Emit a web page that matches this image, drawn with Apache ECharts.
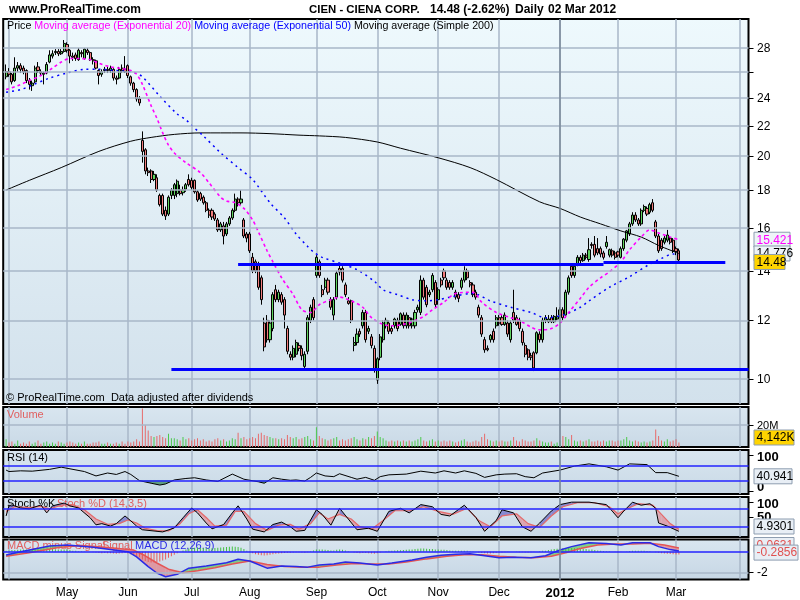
<!DOCTYPE html>
<html><head><meta charset="utf-8">
<script src="https://cdn.jsdelivr.net/npm/echarts@6/dist/echarts.min.js"></script>
<style>html,body{margin:0;padding:0;background:#fff}#c{width:800px;height:600px}</style>
</head><body><div id="c"></div>
<script>
// ---------------- DATA ----------------
const open = [
25.6,26.0,25.8,25.3,26.3,26.5,26.3,26.1,25.3,24.9,25.2,
26.4,26.0,25.8,25.9,26.8,27.3,27.6,27.7,27.5,27.7,28.3,
27.8,27.3,27.4,27.0,27.6,27.1,27.8,27.6,27.0,26.9,26.1,
25.8,26.1,26.2,26.1,26.2,25.5,25.5,26.3,26.2,26.5,25.6,
25.1,24.6,23.9,21.0,20.4,19.1,19.1,18.6,18.7,17.7,17.7,
16.9,16.7,17.7,17.7,17.8,18.0,17.85,18.05,18.6,18.55,18.55,
17.9,17.8,17.6,17.3,16.9,16.9,16.7,16.4,15.9,16.1,15.7,
16.2,16.5,16.9,17.5,17.3,16.4,15.7,15.7,14.6,14.4,14.3,
13.7,11.9,12.0,11.3,11.7,13.2,12.8,13.0,12.8,11.7,10.8,
10.7,10.8,11.1,11.0,10.4,10.9,12.0,12.8,13.8,14.4,13.2,
13.3,13.6,12.8,12.2,12.9,14.1,14.1,13.4,12.75,12.75,11.1,
11.2,11.6,11.8,12.3,11.6,11.4,11.0,9.97,10.7,11.3,11.8,
11.9,11.7,11.8,12.0,11.85,12.2,11.8,12.1,11.8,11.8,12.4,
12.3,13.6,13.3,13.0,13.2,13.5,12.8,13.6,14.0,13.6,13.5,
13.3,13.1,13.0,13.3,13.6,14.0,13.5,13.4,13.1,12.5,12.1,
11.3,11.0,11.3,11.6,11.8,12.1,12.1,11.85,11.9,11.3,12.3,
12.1,12.0,11.6,11.1,10.95,10.75,10.85,10.85,11.5,11.3,12.0,
11.95,12.1,11.95,12.05,12.2,12.4,12.2,13.1,14.2,13.8,14.3,
14.6,14.45,14.7,14.5,15.2,15.2,15.0,15.0,14.8,15.1,14.7,
14.9,14.8,14.85,14.6,15.0,15.4,15.7,16.2,16.65,16.4,16.2,
16.9,17.0,16.8,17.3,16.3,15.6,15.4,15.3,15.4,15.5,15.4,
15.0,14.9];
const high = [
26.6,26.3,25.9,27.2,26.8,26.7,26.5,26.2,25.5,25.3,26.5,
26.8,26.2,26.0,26.8,27.8,27.8,27.9,27.9,27.9,28.7,28.5,
27.9,27.6,27.6,28.0,27.8,28.0,28.0,27.7,27.2,27.0,26.2,
26.2,26.4,26.4,26.5,26.3,25.7,26.4,26.6,27.3,26.6,25.7,
25.2,24.7,24.1,21.6,20.5,19.3,19.2,19.1,18.9,17.8,17.8,
17.1,17.7,18.1,18.4,18.6,18.3,18.2,18.4,18.9,18.7,18.6,
18.0,17.9,17.7,17.4,17.0,17.0,16.8,16.5,16.3,16.3,16.3,
16.6,17.0,17.8,17.6,18.0,16.5,15.8,15.8,14.8,14.5,14.4,
13.8,12.1,12.2,12.0,13.1,13.4,13.2,13.1,12.9,11.8,10.9,
11.1,11.3,11.2,11.1,10.9,12.2,12.6,12.9,14.7,14.5,13.4,
13.7,13.7,12.9,12.9,14.0,14.3,14.2,13.5,12.9,12.8,11.4,
11.7,11.7,12.4,12.4,11.8,11.5,11.1,10.7,11.5,12.0,12.1,
12.0,11.8,12.1,12.1,12.3,12.3,12.3,12.2,12.1,12.4,12.6,
13.8,13.7,13.4,13.2,13.9,13.6,13.3,13.7,14.1,13.7,13.6,
13.6,13.2,13.1,13.7,14.2,14.1,13.6,13.5,13.2,12.6,12.2,
11.4,11.1,11.5,11.7,12.2,12.2,12.2,12.3,12.0,12.0,13.2,
12.2,12.1,11.7,11.2,11.0,10.85,10.9,11.6,11.6,12.1,12.2,
12.2,12.2,12.2,12.5,12.5,12.5,13.2,13.8,14.3,14.3,14.7,
14.7,14.8,14.8,15.5,15.3,15.6,15.5,15.1,14.9,15.6,15.0,
15.0,14.9,14.9,15.1,15.5,15.9,16.3,16.8,16.8,16.5,17.0,
17.2,17.1,17.3,17.5,16.4,15.7,15.5,15.6,15.9,15.6,15.5,
15.1,15.0];
const low = [
25.4,25.6,25.0,25.2,26.0,25.9,25.8,25.1,24.6,24.5,25.1,
25.9,25.7,25.0,25.8,26.7,27.1,27.4,27.3,27.4,27.6,27.6,
26.7,26.9,26.9,26.9,27.2,27.0,27.4,26.9,26.6,26.2,25.0,
25.6,25.9,25.9,25.9,25.3,25.0,25.4,25.9,25.9,25.5,24.9,
24.4,23.7,23.4,19.6,18.9,18.8,18.4,18.5,17.9,17.1,16.6,
16.4,16.6,17.5,17.5,17.6,17.7,17.7,17.9,18.2,18.0,17.8,
17.35,17.4,17.2,16.8,16.5,16.4,16.35,15.8,15.8,15.2,15.6,
16.1,16.4,16.8,17.1,17.2,15.5,15.3,14.8,13.9,13.9,13.2,
12.6,10.9,11.2,11.2,11.6,12.7,12.7,12.6,11.7,10.8,10.6,
10.6,10.7,10.9,10.6,10.3,10.8,11.9,12.0,13.7,13.7,12.9,
13.2,13.0,12.4,12.0,12.8,13.8,13.5,12.9,12.6,11.9,10.9,
11.1,11.4,11.7,11.2,11.5,11.0,10.2,9.85,10.6,11.2,11.7,
11.5,11.5,11.7,11.6,11.8,11.7,11.7,11.7,11.7,11.7,12.3,
12.2,12.8,12.5,12.9,13.1,12.5,12.6,13.3,13.6,13.2,13.2,
13.2,12.8,12.7,13.2,13.5,13.6,13.3,12.9,12.8,12.1,11.4,
10.85,10.9,11.2,11.2,11.7,11.8,11.8,11.8,11.4,11.2,11.9,
11.8,11.6,11.1,10.7,10.6,10.6,10.25,10.8,11.2,11.2,11.9,
11.9,11.9,11.9,12.0,12.1,12.0,12.1,13.0,13.7,13.7,14.2,
14.3,14.4,14.5,14.4,15.0,14.6,14.7,14.6,14.5,15.0,14.6,
14.6,14.5,14.6,14.55,14.9,15.3,15.6,16.1,16.3,16.1,16.1,
16.8,16.6,16.7,16.8,15.5,14.8,14.9,15.2,15.3,15.2,14.8,
14.7,14.4];
const close = [
26.0,25.8,25.2,26.3,26.5,26.2,26.0,25.3,25.0,25.1,26.3,
26.1,25.9,25.9,26.6,27.4,27.5,27.7,27.5,27.7,28.4,27.8,
27.3,27.2,27.1,27.8,27.5,27.9,27.6,27.0,26.9,26.3,25.7,
26.0,26.2,26.1,26.3,25.5,25.4,26.2,26.1,26.0,25.7,25.1,
24.6,23.9,23.6,20.3,19.1,19.0,18.6,18.9,18.0,17.2,16.7,
16.6,17.6,18.0,18.3,18.5,17.8,18.0,18.3,18.3,18.15,17.9,
17.45,17.5,17.3,16.9,16.65,16.55,16.45,15.9,16.2,15.6,16.2,
16.5,16.9,17.5,17.3,17.5,15.6,15.5,14.9,14.0,14.0,13.3,
12.8,11.05,11.3,11.9,13.0,12.8,13.1,12.7,12.2,10.9,10.7,
11.0,11.2,11.0,10.75,10.8,12.1,12.5,12.1,14.6,13.8,13.0,
13.6,13.1,12.5,12.8,13.9,13.95,13.6,13.0,12.65,12.0,11.2,
11.5,11.5,12.3,11.3,11.7,11.1,10.3,10.65,11.4,11.9,12.0,
11.6,11.6,12.05,11.7,12.25,11.8,12.2,11.8,12.05,12.3,12.5,
13.6,12.9,12.6,13.1,13.8,12.6,13.2,13.4,13.7,13.3,13.3,
13.5,12.9,12.85,13.6,14.0,13.7,13.4,13.0,12.9,12.2,11.5,
10.95,10.95,11.45,11.3,12.1,11.9,11.85,12.2,11.5,11.9,12.0,
11.85,11.7,11.2,10.8,10.7,10.7,10.35,11.55,11.3,12.0,12.1,
12.05,11.95,12.15,12.15,12.4,12.1,13.1,13.7,13.8,14.2,14.6,
14.45,14.7,14.6,14.95,15.15,14.7,14.8,14.75,14.6,15.3,14.95,
14.7,14.6,14.7,15.0,15.45,15.85,16.2,16.65,16.4,16.2,16.9,
17.1,16.7,17.2,16.9,15.6,14.9,15.0,15.5,15.65,15.3,14.9,
14.87,14.48];
// volume, millions of shares
const volumeM = [
7,4,5,3,6,3,4,3,5,3,4,
6,3,4,5,3,4,3,5,4,3,4,
5,4,3,4,3,5,3,3,4,4,5,
3,3,4,3,3,4,3,5,3,5,4,
5,7,5,35,20,15,10,9,10,11,9,
8,12,8,8,7,6,9,7,8,6,7,
8,6,7,5,6,5,7,8,6,7,5,
6,8,7,13,8,9,7,8,9,8,12,
13,11,10,9,8,8,7,8,7,11,9,
8,9,7,8,9,10,7,6,18,10,8,
7,6,7,8,9,6,7,6,7,8,9,
7,6,8,7,9,8,10,14,9,8,6,
5,6,5,6,5,6,5,6,5,6,7,
9,6,5,6,7,5,6,5,6,5,6,
5,4,5,6,7,5,4,5,6,5,9,
12,7,6,5,6,5,6,5,5,6,9,
6,5,7,6,5,5,6,8,6,5,4,
4,5,3,4,6,10,9,7,11,6,5,
6,5,6,7,5,5,6,5,6,5,6,
6,5,6,6,7,9,6,5,6,5,4,
5,4,5,6,16,10,6,5,7,5,6,
7,4.142];
// MACD minus signal (histogram)
const macdHist = [
0.1,0.12,0.15,0.15,0.18,0.2,0.22,0.2,0.18,0.2,0.22,
0.24,0.22,0.2,0.22,0.25,0.26,0.24,0.22,0.2,0.22,0.2,
0.15,0.1,0.08,0.05,0.04,0.02,0,-0.02,-0.05,-0.08,-0.12,
-0.15,-0.14,-0.16,-0.15,-0.18,-0.2,-0.18,-0.15,-0.12,-0.18,-0.25,
-0.35,-0.45,-0.55,-0.75,-0.9,-1.0,-1.05,-1.05,-1.0,-0.95,-0.85,
-0.75,-0.6,-0.45,-0.3,-0.15,0,0.12,0.22,0.3,0.35,0.38,
0.4,0.38,0.35,0.32,0.3,0.32,0.35,0.38,0.4,0.42,0.45,
0.48,0.5,0.48,0.45,0.38,0.25,0.1,-0.05,-0.15,-0.25,-0.3,
-0.35,-0.38,-0.35,-0.3,-0.25,-0.2,-0.18,-0.15,-0.12,-0.1,-0.1,
-0.08,-0.05,-0.05,-0.08,-0.1,-0.05,0.05,0.12,0.2,0.22,0.2,
0.18,0.15,0.12,0.12,0.18,0.2,0.18,0.12,0.05,-0.02,-0.08,
-0.12,-0.15,-0.14,-0.12,-0.15,-0.18,-0.2,-0.15,-0.08,0,0.05,
0.08,0.1,0.12,0.13,0.14,0.15,0.18,0.2,0.22,0.25,0.28,
0.3,0.3,0.28,0.25,0.25,0.22,0.2,0.18,0.18,0.15,0.12,
0.1,0.08,0.08,0.1,0.1,0.08,0.05,0.02,-0.02,-0.08,-0.12,
-0.15,-0.18,-0.18,-0.15,-0.12,-0.1,-0.08,-0.05,-0.04,-0.02,-0.02,
-0.03,-0.05,-0.06,-0.08,-0.08,-0.06,-0.04,0,0.05,0.08,0.1,
0.15,0.2,0.25,0.28,0.3,0.32,0.34,0.35,0.35,0.34,0.32,
0.3,0.28,0.25,0.22,0.2,0.16,0.12,0.1,0.07,0.05,0.03,
0,-0.03,-0.05,-0.04,-0.02,0.02,0.06,0.09,0.1,0.1,0.09,
0.08,0.06,0.04,0,-0.05,-0.1,-0.15,-0.18,-0.2,-0.23,-0.25,
-0.27,-0.2856];
// indicator lines, read at [bar index, value]
const ema20 = [[0,24.6],[4,24.9],[8,25.3],[12,25.7],[16,26.3],[19,26.8],[22,27.1],[25,27.1],[29,27.0],[32,26.7],[36,26.4],[39,26.3],[43,26.1],[45,25.8],[47,25.0],[50,23.4],[52,22.5],[54,21.5],[56,20.7],[58,20.2],[62,19.6],[67,19.0],[70,18.4],[74,17.6],[76,17.4],[79,17.3],[82,17.0],[85,16.4],[87,15.8],[90,14.9],[92,14.4],[95,13.7],[99,13.0],[102,12.4],[105,12.3],[108,12.6],[112,12.8],[115,12.9],[120,12.7],[123,12.5],[126,12.1],[130,11.85],[133,11.8],[137,11.85],[140,11.95],[144,12.15],[147,12.4],[151,12.7],[155,13.05],[161,13.1],[164,12.7],[169,12.3],[174,12.1],[177,12.0],[181,11.75],[184,11.65],[188,11.7],[191,11.9],[194,12.3],[198,12.85],[201,13.3],[205,13.7],[208,13.95],[212,14.4],[215,14.95],[219,15.55],[222,15.9],[225,15.75],[229,15.55],[232,15.421]];
const ema50 = [[0,24.4],[5,24.6],[9,24.95],[15,25.5],[21,25.9],[27,26.2],[32,26.2],[38,26.1],[44,25.95],[47,25.6],[53,24.1],[59,22.8],[62,22.4],[64,22.0],[68,21.3],[74,20.2],[80,19.3],[85,18.6],[91,17.3],[96,16.5],[100,15.7],[104,15.1],[106,14.85],[109,14.6],[116,14.3],[121,14.05],[127,13.55],[130,13.2],[135,13.0],[140,12.8],[145,12.75],[149,12.8],[153,12.9],[161,13.05],[167,12.75],[174,12.5],[181,12.3],[186,12.1],[192,12.2],[198,12.5],[201,12.75],[208,13.3],[215,13.75],[222,14.3],[226,14.55],[230,14.75],[232,14.72]];
const sma200 = [[0,18.0],[8,18.55],[19,19.3],[32,20.3],[43,20.95],[50,21.2],[58,21.4],[67,21.5],[81,21.5],[91,21.45],[101,21.35],[108,21.3],[117,21.2],[128,20.9],[136,20.5],[149,19.9],[160,19.3],[169,18.6],[184,17.35],[191,17.0],[198,16.55],[205,16.2],[212,15.85],[219,15.55],[225,15.15],[232,14.776]];
const rsi14 = [[0,58],[1,54],[5,56],[9,55],[15,60],[19,66],[21,63],[27,54],[31,42],[35,50],[38,46],[41,54],[43,46],[46,29],[50,22],[53,17],[55,20],[58,31],[62,35],[65,37],[69,31],[73,27],[78,47],[82,33],[87,26],[89,22],[92,37],[95,33],[98,30],[100,31],[103,28],[105,38],[107,50],[110,42],[113,40],[115,48],[119,38],[121,33],[124,38],[127,30],[129,40],[132,45],[138,47],[143,55],[148,50],[151,56],[155,50],[158,56],[162,49],[165,38],[169,45],[172,47],[176,48],[179,40],[182,37],[185,50],[191,58],[196,69],[201,75],[207,67],[211,58],[215,75],[221,73],[224,51],[228,51],[232,40.941]];
const rsiOversold = [[[45.8,30],[46,29],[50,22],[53,17],[55,20],[57.7,30]],[[84.1,30],[87,26],[89,22],[90.6,30]]];
const stochK = [[0,55],[1,88],[2,91],[5,81],[8,78],[12,91],[14,65],[16,88],[20,97],[22,88],[25,81],[29,49],[31,26],[33,30],[36,22],[38,30],[41,55],[43,39],[45,22],[47,10],[51,6],[54,3],[58,16],[61,49],[64,81],[66,65],[69,32],[71,13],[75,27],[78,65],[80,88],[83,45],[85,12],[89,3],[92,27],[95,35],[98,20],[100,5],[103,8],[107,75],[109,60],[112,25],[115,80],[118,45],[121,10],[125,15],[128,5],[132,70],[136,80],[139,65],[143,92],[147,85],[150,60],[153,55],[158,90],[162,50],[165,5],[169,40],[171,75],[175,65],[178,20],[181,5],[184,32],[188,71],[191,92],[195,100],[201,100],[207,92],[209,71],[211,49],[213,71],[216,100],[219,90],[222,95],[224,80],[225,32],[228,22],[232,4.9301]];
const stochD = [[0,70],[3,85],[8,82],[12,86],[15,78],[19,90],[23,92],[27,75],[31,45],[35,28],[39,30],[42,42],[45,32],[48,15],[52,7],[56,6],[60,30],[63,62],[66,75],[69,50],[72,22],[76,25],[79,70],[82,70],[86,30],[90,8],[94,25],[98,28],[101,12],[105,30],[108,65],[111,45],[115,60],[119,45],[122,20],[126,12],[130,40],[134,72],[139,72],[144,85],[149,70],[154,60],[159,80],[163,40],[167,20],[171,55],[176,62],[180,30],[184,18],[188,55],[192,85],[197,98],[203,98],[208,85],[211,62],[214,78],[218,95],[223,90],[226,60],[229,30],[232,12]];
const macdLine = [[0,-0.32],[5,0],[15,0.55],[21,0.65],[30,0.43],[42,0],[45,-0.5],[49,-1.45],[52,-2.07],[55,-2.43],[59,-2.2],[63,-1.6],[69,-1.4],[76,-1.07],[80,-0.74],[84,-0.9],[90,-1.6],[95,-1.4],[100,-1.45],[104,-1.5],[108,-1.3],[113,-1.2],[117,-1.0],[122,-1.1],[128,-1.3],[133,-1.1],[140,-0.8],[145,-0.55],[150,-0.35],[155,-0.25],[160,-0.2],[165,-0.4],[170,-0.6],[175,-0.55],[181,-0.6],[186,-0.4],[191,0.17],[195,0.49],[201,0.87],[207,0.8],[212,0.65],[216,0.87],[222,0.87],[225,0.49],[229,0.2],[232,0.0631]];
const signalLine = [[0,-0.45],[8,-0.1],[18,0.4],[26,0.6],[35,0.4],[44,0.15],[48,-0.4],[52,-1.1],[56,-1.7],[61,-2.05],[66,-1.85],[72,-1.55],[78,-1.2],[84,-0.9],[90,-1.25],[96,-1.45],[102,-1.5],[108,-1.5],[114,-1.3],[120,-1.15],[126,-1.2],[132,-1.2],[138,-1.0],[145,-0.7],[152,-0.45],[158,-0.3],[164,-0.3],[170,-0.45],[176,-0.55],[182,-0.58],[188,-0.45],[193,-0.1],[198,0.3],[204,0.65],[210,0.75],[216,0.75],[222,0.82],[227,0.65],[232,0.35]];
const priceGridValues = [10,12,14,16,18,20,22,24,26,28];
const priceTickLabels = [10,12,14,16,18,20,22,24,28];
const supportLines = [{from:80,to:206,price:14.31},{from:206,to:248,price:14.37},{from:57,to:256,price:10.30}];
const lastLabels = {ema20:'15.421', sma200:'14.776', close:'14.48', volume:'4,142K', rsi:'40.941', stoch:'4.9301', macd:'0.0631', hist:'-0.2856'};
const lastValues = {ema20:15.421, sma200:14.776, close:14.48, volume:4.142, rsi:40.941, stoch:4.9301, macd:0.0631, hist:-0.2856};

// ---------------- CALENDAR ----------------
const holidays = new Set(['2011-04-22','2011-05-30','2011-07-04','2011-09-05','2011-11-24','2011-12-26','2012-01-02','2012-01-16','2012-02-20','2012-04-06']);
function tradingDays(n){
  const out=[]; let t=Date.UTC(2011,2,31);
  while(out.length<n){const d=new Date(t);const wd=d.getUTCDay();const s=d.toISOString().slice(0,10);
    if(wd!==0&&wd!==6&&!holidays.has(s))out.push(s); t+=86400000;}
  return out;
}
const categories = [''].concat(tradingDays(close.length + 24));
const monthStart = categories.map((d,k)=> k>=2 && d && categories[k-1] && d.slice(5,7)!==categories[k-1].slice(5,7));
const yearCat = categories.find(d=>d.startsWith('2012'));
const MONTHS=['Jan','Feb','Mar','Apr','May','Jun','Jul','Aug','Sep','Oct','Nov','Dec'];

// ---------------- LAYOUT / STYLE ----------------
const FONT='"Liberation Sans", Arial, Helvetica, sans-serif';
const L=3.2, STEP=2.9, W=STEP*(categories.length-1), XR=L+W;
const panels=[[19,385],[407,40],[450,44],[497,40],[539.5,40]];
const yRanges=[[9.252,30.64],[0,36.4],[-7.5,113],[-13.6,116.8],[-2.70,1.18]];
const grad=(a,b)=>new echarts.graphic.LinearGradient(0,0,0,1,[{offset:0,color:a},{offset:1,color:b}]);
const bgs=[grad('#eef9fd','#d2e1ec'),grad('#d9e6f0','#c9d9e6'),grad('#d9e6f0','#c9d9e6'),grad('#d9e6f0','#c9d9e6'),grad('#d9e6f0','#c6d6e4')];
const GRIDC='#a8b7c9', BLUE='#2323ff', YEARC='#7a8899';

const shift=pts=>pts.map(p=>[p[0]+1,p[1]]);
const mk=data=>({silent:true,symbol:['none','none'],label:{show:false},emphasis:{disabled:true},animation:false,data});
const hl=(v,color,width)=>({yAxis:v,lineStyle:{color,width,type:'solid'}});
const yearLine={xAxis:yearCat,lineStyle:{color:YEARC,width:1.5,type:'solid'}};
const helper=(g,data,z)=>({type:'line',xAxisIndex:g,yAxisIndex:g,data:[],z:z||1,silent:true,markLine:mk(data)});
const line=(g,pts,color,width,type,smooth,z)=>({type:'line',xAxisIndex:g,yAxisIndex:g,data:shift(pts),showSymbol:false,symbol:'none',smooth:smooth,lineStyle:{color,width,type},z:z||3,silent:true});

// filled band between two read lines (drawing only: follows both polylines)
function valAt(pts,x){
  if(x<=pts[0][0])return pts[0][1];
  for(let j=1;j<pts.length;j++){if(x<=pts[j][0]){const a=pts[j-1],b=pts[j];return a[1]+(b[1]-a[1])*(x-a[0])/(b[0]-a[0]);}}
  return pts[pts.length-1][1];
}
function band(g,A,B,upColor,downColor){
  return {type:'custom',xAxisIndex:g,yAxisIndex:g,data:[[1,0]],z:2,silent:true,clip:true,
    renderItem:(params,api)=>{
      const xs=[...new Set(A.map(p=>p[0]).concat(B.map(p=>p[0])))].sort((a,b)=>a-b);
      const children=[];
      for(let j=0;j<xs.length-1;j++){
        const x0=xs[j],x1=xs[j+1];
        const a0=valAt(A,x0),a1=valAt(A,x1),b0=valAt(B,x0),b1=valAt(B,x1);
        children.push({type:'polygon',shape:{points:[api.coord([x0+1,a0]),api.coord([x1+1,a1]),api.coord([x1+1,b1]),api.coord([x0+1,b0])]},
          style:{fill:(a0+a1)>=(b0+b1)?upColor:downColor,stroke:null}});
      }
      return {type:'group',children};
    }};
}

const candleData=['-'].concat(close.map((c,i)=>[open[i],c,low[i],high[i]]));
const volData=['-'].concat(volumeM.map((v,i)=>({value:v,itemStyle:{color:close[i]>=open[i]?'#4cc94c':'#e76b6b'}})));
const histData=['-'].concat(macdHist.map(v=>({value:v,itemStyle:{color:v>=0?'#44c044':'#e65c5c'}})));

const option={
  animation:false,
  backgroundColor:'#ffffff',
  grid:panels.map((p,g)=>({left:L,top:p[0],width:W,height:p[1],show:true,backgroundColor:bgs[g],borderColor:'#000',borderWidth:2,containLabel:false})),
  xAxis:panels.map((p,g)=>({type:'category',gridIndex:g,data:categories,boundaryGap:false,
    axisLine:{show:false},axisTick:{show:false},
    axisLabel: g===4 ? {show:true,interval:(k,v)=>monthStart[k]&&v.slice(5,7)!=='04',margin:7,color:'#000',fontFamily:FONT,fontSize:12,
      formatter:v=>{const m=+v.slice(5,7);return m===1?'{y|'+v.slice(0,4)+'}':MONTHS[m-1];},
      rich:{y:{fontWeight:'bold',fontSize:13,fontFamily:FONT,color:'#000'}}} : {show:false},
    splitLine:{show:true,interval:(k)=>monthStart[k],lineStyle:{color:GRIDC,width:1.5}}})),
  yAxis:panels.map((p,g)=>({type:g===0?'log':'value',logBase:10,gridIndex:g,min:yRanges[g][0],max:yRanges[g][1],position:'right',
    axisLine:{show:false},axisTick:{show:false},axisLabel:{show:false},splitLine:{show:false}})),
  series:[
    helper(0,priceGridValues.map(v=>hl(v,GRIDC,1.5)).concat([yearLine]),1),
    {type:'candlestick',xAxisIndex:0,yAxisIndex:0,data:candleData,barWidth:2.6,z:3,silent:true,
      itemStyle:{color:'#5fd35f',color0:'#f27d7d',borderColor:'#000',borderColor0:'#000',borderWidth:1}},
    line(0,sma200,'#000',1,'solid',0.3,4),
    line(0,ema50,'#0000ff',1.5,[2,4],0.3,4),
    line(0,ema20,'#ff00ff',1.6,[3,3],0.3,4),
    {type:'line',xAxisIndex:0,yAxisIndex:0,data:[],z:5,silent:true,
      markLine:mk(supportLines.map(s=>[{coord:[categories[s.from+1],s.price],lineStyle:{color:'#0000ff',width:3,type:'solid'}},{coord:[categories[s.to+1],s.price]}]))},
    // volume
    helper(1,[hl(20,GRIDC,1.5),yearLine],1),
    {type:'bar',xAxisIndex:1,yAxisIndex:1,data:volData,barWidth:1,z:3,silent:true},
    // RSI
    helper(2,[hl(70,BLUE,1.5),hl(30,BLUE,1.5),yearLine],1),
    ...rsiOversold.map(r=>({type:'line',xAxisIndex:2,yAxisIndex:2,data:shift(r),showSymbol:false,symbol:'none',lineStyle:{width:0},areaStyle:{origin:30,color:'#5f9c80',opacity:1},z:2,silent:true})),
    line(2,rsi14,'#000',1,'solid',false,3),
    // Stochastic
    helper(3,[hl(80,BLUE,1.5),hl(20,BLUE,1.5),yearLine],1),
    band(3,stochK,stochD,'rgba(110,110,200,0.75)','rgba(225,140,150,0.7)'),
    line(3,stochD,'#e46a6a',1.2,'solid',false,3),
    line(3,stochK,'#000',1,'solid',false,4),
    // MACD
    helper(4,[hl(0,BLUE,1.5),hl(-2,GRIDC,1.5),yearLine],1),
    band(4,macdLine,signalLine,'rgba(100,200,100,0.75)','rgba(225,130,140,0.75)'),
    {type:'bar',xAxisIndex:4,yAxisIndex:4,data:histData,barWidth:1,z:2,silent:true},
    line(4,signalLine,'#e45555',1.5,'solid',false,3),
    line(4,macdLine,'#2a2ae6',1.5,'solid',false,4)
  ]
};

const chart=echarts.init(document.getElementById('c'),null,{renderer:'canvas',width:800,height:600});
chart.setOption(option);

// ---------------- TEXT / RIGHT-SIDE SCALES ----------------
const T=(x,y,text,font,fill,extra)=>Object.assign({type:'text',x,y,silent:true,style:{text,font,fill,align:'left',verticalAlign:'middle',textAlign:'left',textVerticalAlign:'middle'}},extra||{});
const tick=(y)=>({type:'line',silent:true,shape:{x1:XR,y1:y,x2:XR+5,y2:y},style:{stroke:'#000',lineWidth:1}});
const box=(yc,w,text,color,bg,z)=>[
  {type:'rect',silent:true,z:z,shape:{x:754,y:yc-7.5,width:w,height:15},style:{fill:bg,stroke:'#8d9db0',lineWidth:1}},
  Object.assign(T(756.5,yc+0.5,text,'12px '+FONT,color),{z:z})];
const py=(g,v)=>chart.convertToPixel({yAxisIndex:g},v);
const clamp=(g,y,a,b)=>Math.max(panels[g][0]+a,Math.min(panels[g][0]+panels[g][1]-b,y));

const gr=[];
// header
gr.push(T(9,10,'www.ProRealTime.com','bold 12px '+FONT,'#000'));
gr.push(T(309,10,'CIEN - CIENA CORP.','bold 11.4px '+FONT,'#000'));
gr.push(T(430,10,'14.48 (-2.62%)','bold 12px '+FONT,'#000'));
gr.push(T(515,10,'Daily','bold 12px '+FONT,'#000'));
gr.push(T(548,10,'02 Mar 2012','bold 12px '+FONT,'#000'));
gr.push({type:'text',x:7,y:26,silent:true,style:{text:'{a|Price }{m|Moving average (Exponential 20)}{b| Moving average (Exponential 50)}{a| Moving average (Simple 200)}',
  font:'10.7px '+FONT,verticalAlign:'middle',textVerticalAlign:'middle',
  rich:{a:{fill:'#000',font:'10.7px '+FONT},m:{fill:'#ff00ff',font:'10.7px '+FONT},b:{fill:'#0000ff',font:'10.7px '+FONT}}}});
gr.push(T(6,398,'\u00a9 ProRealTime.com  Data adjusted after dividends','11px '+FONT,'#000'));
// panel titles
gr.push(T(7,415,'Volume','11px '+FONT,'#e06060'));
gr.push(T(7,458,'RSI (14)','11px '+FONT,'#000'));
gr.push(T(7,504,'Stoch %K','11px '+FONT,'#000'));
gr.push(T(57,504,'Stoch %D (14,3,5)','11px '+FONT,'#e06060'));
gr.push(T(7,546,'MACD minus Signal','11px '+FONT,'#e06060'));
gr.push(T(102,546,'Signal','11px '+FONT,'#e06060'));
gr.push(T(135,546,'MACD (12,26,9)','11px '+FONT,'#2a2ae6'));
// price scale
priceGridValues.forEach(v=>{const y=Math.round(py(0,v))+0.5;gr.push(tick(y));
  if(priceTickLabels.indexOf(v)>=0)gr.push(T(757,y,String(v),'12px '+FONT,'#000'));});
// volume scale
{const y=Math.round(py(1,20))+0.5;gr.push(tick(y));gr.push(T(757,y,'20M','11px '+FONT,'#000'));}
// RSI scale
[100,0].forEach(v=>{const y=py(2,v);gr.push(tick(Math.round(y)+0.5));gr.push(T(757,clamp(2,y,7,7),String(v),'bold 13px '+FONT,'#000'));});
// Stoch scale
[100,50].forEach(v=>{const y=py(3,v);gr.push(tick(Math.round(y)+0.5));gr.push(T(757,clamp(3,y,7,7),String(v),'bold 13px '+FONT,'#000'));});
// MACD scale
{const y=py(4,-2);gr.push(tick(Math.round(y)+0.5));gr.push(T(757,y,'-2','12px '+FONT,'#000'));}
// last-value boxes
gr.push(...box(py(0,lastValues.ema20),36,lastLabels.ema20,'#ff00ff','#eef3f8',10));
gr.push(...box(py(0,lastValues.sma200),36,lastLabels.sma200,'#000','#eef3f8',11));
gr.push(...box(py(0,lastValues.close)+2,31,lastLabels.close,'#000','#ffd400',12));
gr.push(...box(clamp(1,py(1,lastValues.volume),8,9.5),40,lastLabels.volume,'#000','#ffd400',10));
gr.push(...box(clamp(2,py(2,lastValues.rsi),8,8),38,lastLabels.rsi,'#000','#e8eef5',10));
gr.push(...box(clamp(3,py(3,lastValues.stoch),8,10.5),40,lastLabels.stoch,'#000','#e8eef5',10));
gr.push(...box(py(4,lastValues.macd)-6,40,lastLabels.macd,'#e05050','#e8eef5',10));
gr.push(...box(py(4,lastValues.hist)-2,44,lastLabels.hist,'#e05050','#e8eef5',11));
chart.setOption({graphic:{elements:gr}});
</script>
</body></html>
